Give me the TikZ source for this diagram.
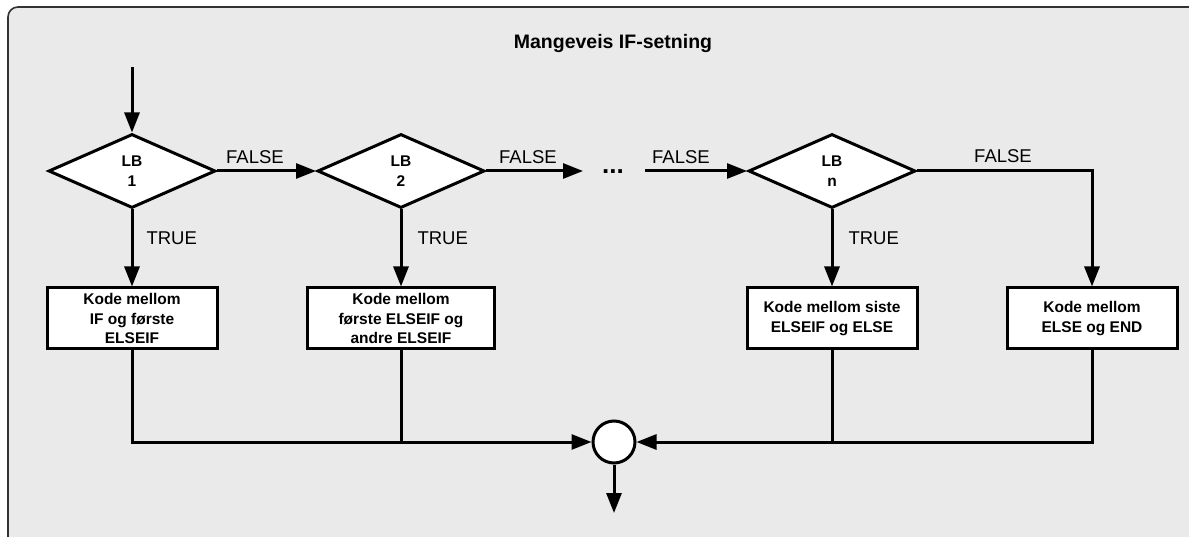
\documentclass[tikz,border=0pt]{standalone}
\usepackage{fontspec}
\setmainfont{Liberation Sans}
\usetikzlibrary{shapes.geometric,arrows.meta}
\definecolor{panel}{RGB}{234,234,234}
\definecolor{rim}{RGB}{50,50,50}
\begin{document}
\begin{tikzpicture}[x=1pt,y=-1pt,
  line width=3pt,
  >={Triangle[length=20pt,width=15pt]},
  dec/.style={diamond, draw, fill=white, aspect=2.26, minimum width=167pt, minimum height=74pt,
    inner sep=0pt, align=center, font=\bfseries\fontsize{15.5}{20}\selectfont},
  codebox/.style={rectangle, draw, fill=white, minimum width=170pt, minimum height=61pt,
    inner sep=0pt, align=center, font=\bfseries\fontsize{15.5}{19.5}\selectfont},
  lbl/.style={font=\fontsize{18.5}{22}\selectfont, inner sep=0pt},
  joinc/.style={circle, draw, fill=white, minimum size=42pt, inner sep=0pt},
  panelbox/.style={draw=rim, fill=panel, line width=1.6pt, rounded corners=10pt}
]
\useasboundingbox (0,0) rectangle (1189,537);
\clip (0,0) rectangle (1189,537);
\fill[white] (0,0) rectangle (1189,537);
\draw[panelbox] (8,7) rectangle (1205,548);

\node[font=\bfseries\fontsize{19.5}{22}\selectfont, anchor=base, inner sep=0pt] (title) at (613,49) {Mangeveis IF-setning};

% decisions
\node[dec] (d1) at (132,171) {LB\\1};
\node[dec] (d2) at (401,171) {LB\\2};
\node[dec] (dn) at (832,171) {LB\\n};

% code boxes
\node[codebox] (b1) at (132,318.5) {Kode mellom\\IF og første\\ELSEIF};
\node[codebox, minimum width=187pt] (b2) at (401,318.5) {Kode mellom\\første ELSEIF og\\andre ELSEIF};
\node[codebox] (b3) at (832,318.5) {Kode mellom siste\\ELSEIF og ELSE};
\node[codebox] (b4) at (1092,318.5) {Kode mellom\\ELSE og END};

% join
\node[joinc] (join) at (614,442) {};

% dots
\node[font=\bfseries\fontsize{26}{26}\selectfont, anchor=base, inner sep=0pt] (dots) at (613,174) {...};

\coordinate (start) at (132,67);
\coordinate (f2end) at (583,171);
\coordinate (fnstart) at (645,171);
\coordinate (out) at (614,513);

\draw[->] (start) -- (d1.north);
\draw[->] (d1.east) -- (d2.west);
\draw[->] (d2.east) -- (f2end);
\draw[->] (fnstart) -- (dn.west);
\draw[->] (dn.east) -| (b4.north);

\draw[->] (d1.south) -- (b1.north);
\draw[->] (d2.south) -- (b2.north);
\draw[->] (dn.south) -- (b3.north);

\draw[->] (b1.south) |- (join.west);
\draw (b2.south) -- (b2.south |- join.center);
\draw[->] (b4.south) |- (join.east);
\draw (b3.south) -- (b3.south |- join.center);
\draw[->] (join.south) -- (out);

% labels
\node[lbl, anchor=base] (lf1) at (255,164) {FALSE};
\node[lbl, anchor=base] (lf2) at (528,164) {FALSE};
\node[lbl, anchor=base] (lf3) at (681,164) {FALSE};
\node[lbl, anchor=base] (lf4) at (1003,163) {FALSE};
\node[lbl, anchor=base west] (lt1) at (145,245) {TRUE};
\node[lbl, anchor=base west] (lt2) at (416,245) {TRUE};
\node[lbl, anchor=base west] (lt3) at (847,245) {TRUE};
\end{tikzpicture}
\end{document}
